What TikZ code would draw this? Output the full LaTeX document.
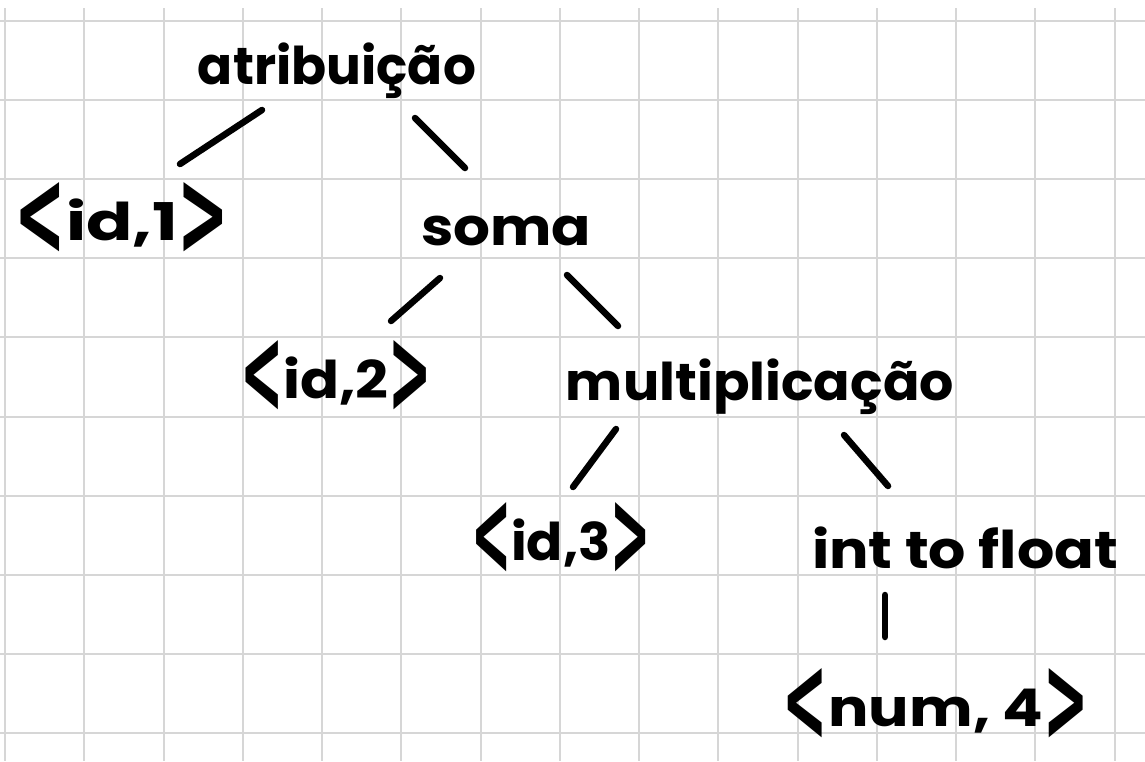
\documentclass[tikz,border=0pt]{standalone}
\usepackage{fontspec}
\usepackage{graphicx}
\newfontfamily\hand{Poppins}
\newfontfamily\brk{DejaVu Sans}
\definecolor{gridgray}{HTML}{D6D6D6}
% tall, thin angle brackets for the token pairs
\newcommand\opena{\raisebox{-0.3em}{\scalebox{0.9}[2.35]{\brk\bfseries <}}}
\newcommand\closea{\raisebox{-0.3em}{\scalebox{0.9}[2.35]{\brk\bfseries >}}}
% set a label at its natural height, stretched to a given width
\newcommand\wide[2]{\resizebox{#1pt}{\height}{#2}}
\begin{document}
\begin{tikzpicture}[x=1pt,y=-1pt,
  gridline/.style={gridgray,line width=2pt},
  term/.style={anchor=base,inner sep=0pt,font=\hand\bfseries\fontsize{52}{56}\selectfont},
  edge/.style={line width=6.5pt,line cap=round}]
  % paper
  \fill[white] (0,0) rectangle (1145,761);
  \useasboundingbox (0,0) rectangle (1145,761);
  % squared grid
  \foreach \i in {0,...,14}
    \draw[gridline] ({5+79.25*\i},8) -- ({5+79.25*\i},761);
  \foreach \j in {0,...,9}
    \draw[gridline] (0,{21+79.1*\j}) -- (1145,{21+79.1*\j});
  % tree nodes
  \node[term] (atrib) at (337,84)  {\wide{278}{atribuição}};
  \node[term] (id1)   at (122,240) {\wide{215}{\opena id,1\closea}};
  \node[term] (soma)  at (506,245) {\wide{170}{soma}};
  \node[term] (id2)   at (336,398) {\wide{192}{\opena id,2\closea}};
  \node[term] (mult)  at (760,400) {\wide{388}{multiplicação}};
  \node[term] (id3)   at (561,560) {\wide{180}{\opena id,3\closea}};
  \node[term] (itf)   at (965,568) {\wide{306}{int to float}};
  \node[term] (num4)  at (936,726) {\wide{306}{\opena num, 4\closea}};
  % tree edges
  \draw[edge] ([shift={(-75,26)}]atrib.base) -- ([shift={(58,-76)}]id1.base);
  \draw[edge] ([shift={(78,34)}]atrib.base)  -- ([shift={(-41,-77)}]soma.base);
  \draw[edge] ([shift={(-66,33)}]soma.base)  -- ([shift={(55,-77)}]id2.base);
  \draw[edge] ([shift={(61,30)}]soma.base)   -- ([shift={(-142,-74)}]mult.base);
  \draw[edge] ([shift={(-144,29)}]mult.base) -- ([shift={(12,-73)}]id3.base);
  \draw[edge] ([shift={(84,35)}]mult.base)   -- ([shift={(-77,-82)}]itf.base);
  \draw[edge] ([shift={(-80,27)}]itf.base)   -- ([shift={(-51,-89)}]num4.base);
\end{tikzpicture}
\end{document}
